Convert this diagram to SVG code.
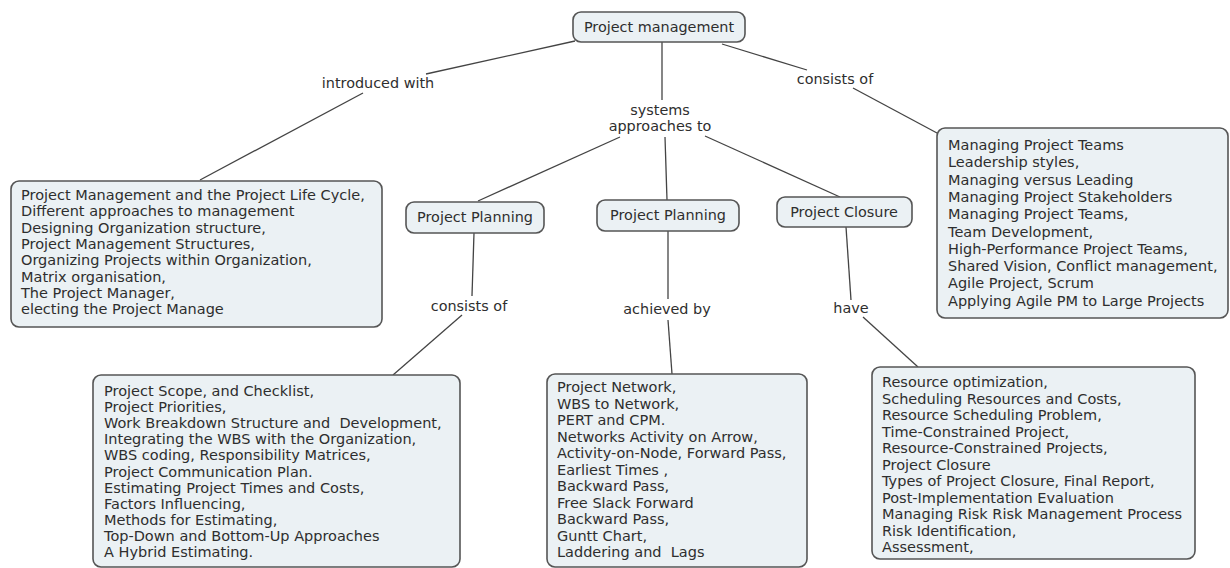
<svg xmlns="http://www.w3.org/2000/svg" width="1230" height="568" viewBox="0 0 1230 568">
<style>
.box{fill:#ebf1f4;stroke:#555;stroke-width:1.6}
.t{font-family:"DejaVu Sans",Verdana,sans-serif;font-size:14.5px;fill:#2e2e2e}
.n{font-family:"DejaVu Sans",Verdana,sans-serif;font-size:14.4px;fill:#2e2e2e;text-anchor:middle}
.lbl{font-family:"DejaVu Sans",Verdana,sans-serif;font-size:14.4px;fill:#2e2e2e;text-anchor:middle}
.c line{stroke:#444;stroke-width:1.3}
</style>
<rect width="1230" height="568" fill="#fff"/>
<g class="c" id="connectors">
<line x1="575" y1="41" x2="426" y2="74"/>
<line x1="363" y1="93" x2="200" y2="180"/>
<line x1="662" y1="42" x2="662" y2="100"/>
<line x1="620" y1="137" x2="478" y2="201"/>
<line x1="665" y1="137" x2="667" y2="200"/>
<line x1="705" y1="136" x2="840" y2="197"/>
<line x1="722" y1="44" x2="807" y2="70"/>
<line x1="853" y1="88" x2="937" y2="133"/>
<line x1="474" y1="233" x2="472" y2="296"/>
<line x1="462" y1="315" x2="393" y2="375"/>
<line x1="668" y1="231" x2="668" y2="299"/>
<line x1="668" y1="320" x2="672" y2="374"/>
<line x1="846" y1="227" x2="851" y2="300"/>
<line x1="863" y1="317" x2="918" y2="367"/>
<text class="lbl" x="378" y="88">introduced with</text>
<text class="lbl" x="660" y="115">systems</text>
<text class="lbl" x="660" y="131">approaches to</text>
<text class="lbl" x="835" y="84">consists of</text>
<text class="lbl" x="469" y="311">consists of</text>
<text class="lbl" x="667" y="314">achieved by</text>
<text class="lbl" x="851" y="313">have</text>
</g>
<g id="project-management">
<rect class="box" x="573" y="12" width="172" height="30" rx="8"/>
<text class="n" x="659" y="32">Project management</text>
</g>
<g id="project-planning-1">
<rect class="box" x="406" y="202" width="138" height="31" rx="8"/>
<text class="n" x="475" y="222">Project Planning</text>
</g>
<g id="project-planning-2">
<rect class="box" x="597" y="200" width="142" height="31" rx="8"/>
<text class="n" x="668" y="220">Project Planning</text>
</g>
<g id="project-closure">
<rect class="box" x="777" y="197" width="135" height="30" rx="8"/>
<text class="n" x="844" y="217">Project Closure</text>
</g>
<g id="intro-box">
<rect class="box" x="11" y="181" width="371" height="146" rx="8"/>
<text class="t" x="21" y="200">
<tspan x="21" dy="0">Project Management and the Project Life Cycle,</tspan>
<tspan x="21" dy="16.3">Different approaches to management</tspan>
<tspan x="21" dy="16.3">Designing Organization structure,</tspan>
<tspan x="21" dy="16.3">Project Management Structures,</tspan>
<tspan x="21" dy="16.3">Organizing Projects within Organization,</tspan>
<tspan x="21" dy="16.3">Matrix organisation,</tspan>
<tspan x="21" dy="16.3">The Project Manager,</tspan>
<tspan x="21" dy="16.3">electing the Project Manage</tspan>
</text>
</g>
<g id="teams-box">
<rect class="box" x="937" y="128" width="291" height="190" rx="8"/>
<text class="t" x="948" y="150">
<tspan x="948" dy="0">Managing Project Teams</tspan>
<tspan x="948" dy="17.3">Leadership styles,</tspan>
<tspan x="948" dy="17.3">Managing versus Leading</tspan>
<tspan x="948" dy="17.3">Managing Project Stakeholders</tspan>
<tspan x="948" dy="17.3">Managing Project Teams,</tspan>
<tspan x="948" dy="17.3">Team Development,</tspan>
<tspan x="948" dy="17.3">High-Performance Project Teams,</tspan>
<tspan x="948" dy="17.3">Shared Vision, Conflict management,</tspan>
<tspan x="948" dy="17.3">Agile Project, Scrum</tspan>
<tspan x="948" dy="17.3">Applying Agile PM to Large Projects</tspan>
</text>
</g>
<g id="planning-box">
<rect class="box" x="93" y="375" width="367" height="192" rx="8"/>
<text class="t" x="104" y="396">
<tspan x="104" dy="0">Project Scope, and Checklist,</tspan>
<tspan x="104" dy="16.1">Project Priorities,</tspan>
<tspan x="104" dy="16.1">Work Breakdown Structure and&#160; Development,</tspan>
<tspan x="104" dy="16.1">Integrating the WBS with the Organization,</tspan>
<tspan x="104" dy="16.1">WBS coding, Responsibility Matrices,</tspan>
<tspan x="104" dy="16.1">Project Communication Plan.</tspan>
<tspan x="104" dy="16.1">Estimating Project Times and Costs,</tspan>
<tspan x="104" dy="16.1">Factors Influencing,</tspan>
<tspan x="104" dy="16.1">Methods for Estimating,</tspan>
<tspan x="104" dy="16.1">Top-Down and Bottom-Up Approaches</tspan>
<tspan x="104" dy="16.1">A Hybrid Estimating.</tspan>
</text>
</g>
<g id="network-box">
<rect class="box" x="547" y="374" width="260" height="193" rx="8"/>
<text class="t" x="557" y="392">
<tspan x="557" dy="0">Project Network,</tspan>
<tspan x="557" dy="16.5">WBS to Network,</tspan>
<tspan x="557" dy="16.5">PERT and CPM.</tspan>
<tspan x="557" dy="16.5">Networks Activity on Arrow,</tspan>
<tspan x="557" dy="16.5">Activity-on-Node, Forward Pass,</tspan>
<tspan x="557" dy="16.5">Earliest Times ,</tspan>
<tspan x="557" dy="16.5">Backward Pass,</tspan>
<tspan x="557" dy="16.5">Free Slack Forward</tspan>
<tspan x="557" dy="16.5">Backward Pass,</tspan>
<tspan x="557" dy="16.5">Guntt Chart,</tspan>
<tspan x="557" dy="16.5">Laddering and&#160; Lags</tspan>
</text>
</g>
<g id="closure-box">
<rect class="box" x="872" y="367" width="323" height="192" rx="8"/>
<text class="t" x="882" y="387">
<tspan x="882" dy="0">Resource optimization,</tspan>
<tspan x="882" dy="16.5">Scheduling Resources and Costs,</tspan>
<tspan x="882" dy="16.5">Resource Scheduling Problem,</tspan>
<tspan x="882" dy="16.5">Time-Constrained Project,</tspan>
<tspan x="882" dy="16.5">Resource-Constrained Projects,</tspan>
<tspan x="882" dy="16.5">Project Closure</tspan>
<tspan x="882" dy="16.5">Types of Project Closure, Final Report,</tspan>
<tspan x="882" dy="16.5">Post-Implementation Evaluation</tspan>
<tspan x="882" dy="16.5">Managing Risk Risk Management Process</tspan>
<tspan x="882" dy="16.5">Risk Identification,</tspan>
<tspan x="882" dy="16.5">Assessment,</tspan>
</text>
</g>
</svg>
